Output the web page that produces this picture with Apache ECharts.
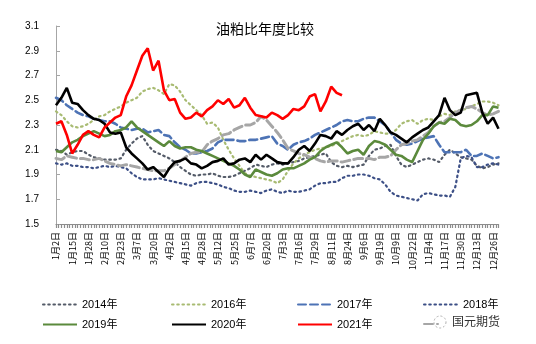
<!DOCTYPE html>
<html>
<head>
<meta charset="utf-8">
<script src="https://cdn.jsdelivr.net/npm/echarts@6/dist/echarts.min.js"></script>
<style>
  html, body { margin: 0; padding: 0; background: #fff; }
  #chart { width: 536px; height: 344px; }
</style>
</head>
<body>
<div id="chart"></div>
<script>
// Trading-day categories (every third one carries an axis label)
const categories = [
  '1月2日','1月6日','1月10日','1月15日','1月19日','1月23日','1月28日','2月1日','2月5日',
  '2月10日','2月14日','2月18日','2月23日','2月27日','3月2日','3月7日','3月11日','3月15日',
  '3月20日','3月24日','3月28日','4月2日','4月6日','4月10日','4月15日','4月19日','4月23日',
  '4月28日','5月3日','5月7日','5月12日','5月16日','5月20日','5月25日','5月29日','6月2日',
  '6月7日','6月11日','6月15日','6月20日','6月24日','6月28日','7月3日','7月7日','7月11日',
  '7月16日','7月20日','7月24日','7月29日','8月2日','8月6日','8月11日','8月15日','8月19日',
  '8月24日','8月28日','9月1日','9月6日','9月10日','9月14日','9月19日','9月25日','9月30日',
  '10月9日','10月13日','10月17日','10月22日','10月26日','10月30日','11月4日','11月8日','11月12日',
  '11月17日','11月21日','11月25日','11月30日','12月4日','12月8日','12月13日','12月17日','12月21日',
  '12月26日','12月30日'
];

// Oil / meal price ratio by year
const s2014 = [2.10,2.09,2.06,2.08,2.09,2.09,2.06,2.04,2.03,2.02, 2.02,2.02,2.03,2.10,2.15,2.19,2.21,2.14,2.09,2.07,
  2.05,2.03,2.00,1.96,1.93,1.90,1.89,1.90,1.90,1.91, 1.89,1.88,1.88,1.89,1.91,1.93,1.95,1.98,1.97,1.96,
  1.98,1.99,1.98,1.99,2.00,2.01,2.03,2.04,2.05,2.06, 2.07,2.00,1.97,1.96,1.97,1.96,1.97,1.98,2.05,2.10,
  2.11,2.13,2.14,2.05,1.98,1.96,1.98,2.00,2.02,2.03, 2.02,2.00,2.06,2.10,2.07,2.04,2.03,2.02,1.97,1.95,
  1.96,1.98,1.99];
const s2015 = [2.03,2.02,2.05,2.04,2.03,2.03,2.02,2.02,2.03,2.01, 1.99,1.98,1.97,1.98,1.97,1.96,1.95,1.94,1.93,1.93,
  1.93,1.95,1.98,2.01,2.04,2.07,2.08,2.08,2.14,2.17, 2.19,2.22,2.23,2.26,2.28,2.30,2.30,2.32,2.37,2.34,
  2.29,2.24,2.18,2.11,2.09,2.07,2.06,2.04,2.03,2.01, 2.00,2.01,2.01,2.00,2.01,2.02,2.03,2.03,2.03,2.02,
  2.04,2.04,2.05,2.10,2.14,2.15,2.17,2.18,2.21,2.24, 2.29,2.32,2.33,2.36,2.40,2.42,2.44,2.45,2.43,2.40,
  2.38,2.39,2.41];
const s2016 = [2.41,2.38,2.33,2.29,2.28,2.29,2.31,2.34,2.37,2.38, 2.41,2.43,2.45,2.48,2.50,2.52,2.57,2.59,2.60,2.58,
  2.55,2.63,2.62,2.57,2.50,2.46,2.42,2.38,2.31,2.32, 2.28,2.18,2.10,2.03,1.97,1.91,1.89,1.88,1.87,1.86,
  1.85,1.83,1.86,1.93,1.99,2.03,2.06,2.08,2.10,2.11, 2.12,2.13,2.15,2.17,2.19,2.21,2.22,2.21,2.22,2.25,
  2.24,2.23,2.23,2.26,2.31,2.33,2.34,2.31,2.34,2.35, 2.34,2.37,2.39,2.38,2.41,2.42,2.43,2.45,2.47,2.49,
  2.49,2.48,2.46];
const s2017 = [2.52,2.50,2.46,2.43,2.40,2.38,2.37,2.35,2.34,2.33, 2.33,2.31,2.28,2.27,2.26,2.27,2.27,2.24,2.25,2.26,
  2.22,2.21,2.16,2.12,2.10,2.07,2.07,2.08,2.09,2.11, 2.16,2.18,2.18,2.18,2.17,2.17,2.18,2.18,2.19,2.20,
  2.21,2.15,2.13,2.10,2.14,2.16,2.17,2.19,2.22,2.24, 2.26,2.28,2.30,2.33,2.34,2.33,2.33,2.35,2.36,2.36,
  2.33,2.30,2.24,2.18,2.15,2.14,2.15,2.17,2.19,2.20, 2.21,2.14,2.08,2.08,2.08,2.08,2.10,2.05,2.05,2.07,
  2.05,2.03,2.04];
const s2018 = [1.99,1.98,1.99,1.97,1.97,1.96,1.96,1.95,1.96,1.97, 1.96,1.97,1.96,1.95,1.91,1.88,1.86,1.86,1.86,1.87,
  1.86,1.85,1.84,1.83,1.82,1.81,1.83,1.84,1.84,1.83, 1.82,1.80,1.79,1.77,1.76,1.76,1.77,1.76,1.75,1.77,
  1.78,1.76,1.75,1.77,1.76,1.76,1.77,1.78,1.81,1.83, 1.83,1.84,1.84,1.87,1.89,1.89,1.90,1.90,1.89,1.87,
  1.86,1.82,1.76,1.73,1.72,1.71,1.70,1.69,1.74,1.75, 1.74,1.73,1.73,1.72,1.80,2.03,2.05,2.04,1.96,1.96,
  1.98,1.99,1.98];
const s2019 = [2.09,2.08,2.12,2.16,2.18,2.21,2.23,2.25,2.23,2.21, 2.22,2.25,2.26,2.28,2.33,2.28,2.25,2.22,2.19,2.16,
  2.13,2.17,2.13,2.11,2.12,2.12,2.10,2.09,2.07,2.05, 2.03,2.01,1.99,1.97,1.94,1.90,1.88,1.94,1.92,1.90,
  1.89,1.91,1.94,1.95,1.95,1.97,1.99,2.02,2.04,2.09, 2.12,2.14,2.16,2.12,2.07,2.09,2.10,2.06,2.13,2.17,
  2.16,2.14,2.10,2.06,2.05,2.02,2.00,2.09,2.18,2.23, 2.29,2.32,2.31,2.35,2.34,2.30,2.29,2.30,2.33,2.38,
  2.38,2.45,2.44];
const s2020 = [2.46,2.52,2.60,2.48,2.47,2.42,2.38,2.35,2.34,2.31, 2.24,2.23,2.24,2.12,2.07,2.03,1.99,1.94,1.96,1.92,
  1.88,1.95,2.00,2.01,2.03,1.99,1.98,1.95,1.97,2.00, 2.01,2.03,1.98,1.99,2.02,2.03,2.00,2.06,2.02,2.06,
  2.03,2.00,1.99,1.99,2.04,2.10,2.13,2.09,2.15,2.22, 2.21,2.19,2.25,2.22,2.26,2.29,2.31,2.26,2.30,2.25,
  2.35,2.30,2.24,2.22,2.19,2.16,2.20,2.23,2.26,2.28, 2.33,2.38,2.52,2.42,2.38,2.40,2.54,2.55,2.56,2.40,
  2.31,2.36,2.27];
const s2021 = [2.31,2.33,2.22,2.07,2.14,2.22,2.25,2.22,2.20,2.28, 2.32,2.36,2.38,2.53,2.62,2.74,2.86,2.92,2.74,2.82,
  2.58,2.50,2.51,2.40,2.35,2.36,2.40,2.37,2.42,2.45, 2.50,2.47,2.51,2.44,2.46,2.52,2.44,2.38,2.37,2.36,
  2.40,2.38,2.35,2.38,2.43,2.42,2.45,2.53,2.55,2.41, 2.49,2.61,2.56,2.54];

const FONT = '"Liberation Sans", "Noto Sans CJK SC", sans-serif';

// name, values, colour, width, dash pattern
const seriesDefs = [
  { name: '2014年', data: s2014, color: '#545b68', width: 2.2, type: [1.6, 3.6] },
  { name: '2016年', data: s2016, color: '#a8bb72', width: 2.2, type: [1.6, 3.6] },
  { name: '2017年', data: s2017, color: '#4d73b5', width: 2.6, type: [8, 4] },
  { name: '2018年', data: s2018, color: '#3c4f86', width: 2.2, type: [1.6, 3.6] },
  { name: '2015年', data: s2015, color: '#a6a6a6', width: 3, type: [9, 4] },
  { name: '2019年', data: s2019, color: '#5b8a3c', width: 2.6, type: 'solid' },
  { name: '2020年', data: s2020, color: '#000000', width: 2.6, type: 'solid' },
  { name: '2021年', data: s2021, color: '#ff0000', width: 2.6, type: 'solid' }
];

// legend slots: two rows of four
const legendSlots = {
  '2014年': [37, 294], '2016年': [166, 294], '2017年': [292, 294], '2018年': [418, 294],
  '2019年': [37, 314], '2020年': [166, 314], '2021年': [292, 314], '2015年': [418, 314]
};

const legends = seriesDefs.map(d => ({
  data: [d.name],
  left: legendSlots[d.name][0],
  top: legendSlots[d.name][1],
  itemWidth: d.name === '2015年' ? 14 : 34,
  itemHeight: 10,
  itemGap: 0,
  selectedMode: false,
  itemStyle: { color: 'rgba(0,0,0,0)', borderWidth: 0, borderColor: 'rgba(0,0,0,0)' },
  formatter: d.name === '2015年' ? () => '' : undefined,
  textStyle: { fontSize: 11, color: '#000', fontFamily: FONT }
}));

// fine tick comb along the bottom axis
const combCats = new Array(categories.length * 2 - 1).fill('');

const chart = echarts.init(document.getElementById('chart'), null, { renderer: 'canvas' });
chart.setOption({
  animation: false,
  backgroundColor: '#fff',
  title: {
    text: '油粕比年度比较',
    left: 211,
    top: 17,
    textStyle: { fontSize: 14, fontWeight: 'normal', color: '#000', fontFamily: '"Noto Sans CJK SC", sans-serif' }
  },
  legend: legends,
  grid: { left: 56, top: 26, width: 442.5, height: 198, containLabel: false },
  xAxis: [
    {
      type: 'category',
      data: categories,
      boundaryGap: false,
      axisLine: { show: false },
      axisTick: { show: false },
      axisLabel: {
        interval: 2,
        rotate: 90,
        margin: 8,
        fontSize: 9,
        color: '#000',
        fontFamily: '"Noto Sans CJK SC", sans-serif'
      },
      splitLine: { show: false }
    },
    {
      type: 'category',
      data: combCats,
      boundaryGap: false,
      position: 'bottom',
      axisLine: { show: true, lineStyle: { color: '#8c8c8c', width: 1 } },
      axisTick: { show: true, interval: 0, length: 4, lineStyle: { color: '#8c8c8c', width: 1.2 } },
      axisLabel: { show: false },
      splitLine: { show: false }
    }
  ],
  yAxis: {
    type: 'value',
    min: 1.5,
    max: 3.1,
    interval: 0.2,
    axisLine: { show: true, lineStyle: { color: '#a6a6a6' } },
    axisTick: { show: true, inside: true, length: 4, lineStyle: { color: '#a6a6a6' } },
    axisLabel: {
      margin: 17,
      fontSize: 10,
      color: '#000',
      fontFamily: FONT,
      formatter: v => v.toFixed(1)
    },
    splitLine: { show: false }
  },
  series: seriesDefs.map(d => ({
    name: d.name,
    type: 'line',
    xAxisIndex: 0,
    data: d.data,
    symbol: 'none',
    smooth: false,
    color: d.color,
    lineStyle: { color: d.color, width: d.width, type: d.type, cap: d.type === 'solid' ? 'butt' : 'round' }
  })),
  graphic: [
    {
      type: 'circle',
      shape: { cx: 440, cy: 322, r: 6 },
      style: { fill: 'none', stroke: '#b0b0b0', lineWidth: 1, lineDash: [2, 2] }
    },
    {
      type: 'text',
      left: 452,
      top: 315,
      style: { text: '国元期货', fill: '#333', font: '12px "Noto Sans CJK SC", sans-serif' }
    }
  ]
});
</script>
</body>
</html>
